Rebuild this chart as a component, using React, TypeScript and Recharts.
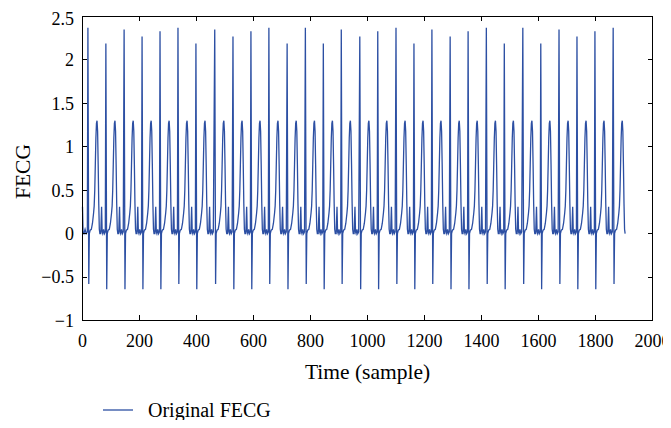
import { LineChart, Line, XAxis, YAxis, Legend } from 'recharts'

// R-peak position (sample) and height of each beat
const rSamples = [19, 82, 146, 209, 272, 335, 398, 464, 528, 591, 654, 718, 782, 845, 908, 973, 1036, 1100, 1163, 1226, 1290, 1353, 1417, 1480, 1545, 1608, 1672, 1735, 1798, 1862]
const rValues = [2.37, 2.19, 2.35, 2.27, 2.33, 2.37, 2.19, 2.35, 2.27, 2.33, 2.37, 2.19, 2.37, 2.19, 2.35, 2.27, 2.33, 2.37, 2.19, 2.35, 2.27, 2.33, 2.37, 2.19, 2.37, 2.19, 2.35, 2.27, 2.33, 2.37]
// S-wave minimum right after each R peak
const sValues = [-0.58, -0.64, -0.64, -0.64, -0.64, -0.58, -0.64, -0.58, -0.64, -0.64, -0.58, -0.64, -0.58, -0.64, -0.58, -0.64, -0.64, -0.58, -0.64, -0.58, -0.64, -0.64, -0.58, -0.64, -0.58, -0.64, -0.58, -0.64, -0.64, -0.58]
// rest of one beat after the S wave: offset from R (samples) and amplitude
const beatOffsets = [5, 8, 12, 16, 20, 22, 24, 26, 28, 30, 32, 34, 36, 38, 40, 42, 45, 46, 48, 50, 52, 55, 58, 61]
const beatValues = [0.0, 0.04, 0.05, 0.12, 0.24, 0.32, 0.5, 0.8, 1.1, 1.27, 1.3, 1.18, 0.8, 0.35, 0.05, 0.0, 0.0, 0.1, 0.31, 0.02, 0.0, 0.05, 0.0, 0.02]
// record start, before the first R peak
const leadSamples = [0, 2, 5, 9, 13, 17]
const leadValues = [0.31, 0.02, 0.0, 0.05, 0.0, 0.02]
const lastSample = 1904

const xTicks = [0, 200, 400, 600, 800, 1000, 1200, 1400, 1600, 1800, 2000]
const yTicks = [-1, -0.5, 0, 0.5, 1, 1.5, 2, 2.5]
const xMin = 0
const xMax = 2000
const yMin = -1
const yMax = 2.5

const data: { x: number; y: number }[] = leadSamples.map((x, i) => ({ x, y: leadValues[i] }))
rSamples.forEach((r, i) => {
  data.push({ x: r, y: rValues[i] })
  data.push({ x: r + 3, y: sValues[i] })
  beatOffsets.forEach((o, k) => data.push({ x: r + o, y: beatValues[k] }))
})
const series = data.filter((d) => d.x <= lastSample)

// layout (plot edges sit on pixel centres so the 1px frame stays crisp)
const W = 663
const H = 412
const margin = { top: 8.5, right: 18.5, left: 14, bottom: 39.5 }
const yAxisW = 60.5
const xAxisH = 60
const plotL = margin.left + yAxisW
const plotT = margin.top
const plotW = W - plotL - margin.right
const plotH = H - margin.top - margin.bottom - xAxisH
const tickLen = 5

const font = '"Liberation Serif", serif'
const blue = '#2c4fa3'
const tickStyle = { fontSize: 18, fill: '#000', fontFamily: font }
const fmt = (v: number) => String(v).replace('-', '\u2212')

const YLabel = ({ viewBox }: any) => {
  const cx = viewBox.x + 8
  const cy = viewBox.y + viewBox.height / 2 + 3
  return (
    <text x={cx} y={cy} transform={`rotate(-90, ${cx}, ${cy})`} textAnchor="middle" fontSize={21.5} fontFamily={font} fill="#000">
      FECG
    </text>
  )
}

const LegendBox = () => (
  <div style={{ display: 'flex', alignItems: 'center', fontFamily: font, fontSize: 20, lineHeight: '20px', color: '#000' }}>
    <svg width={30} height={20}>
      <line x1={0} y1={10} x2={30} y2={10} stroke={blue} strokeWidth={1.3} />
    </svg>
    <span style={{ marginLeft: 15 }}>Original FECG</span>
  </div>
)

// box around the plot with inward ticks on all four sides, drawn as filled 1px rects
const Frame = () => {
  const px = (t: number) => Math.floor(plotL + ((t - xMin) / (xMax - xMin)) * plotW)
  const py = (t: number) => Math.floor(plotT + ((yMax - t) / (yMax - yMin)) * plotH)
  const l = Math.floor(plotL)
  const t0 = Math.floor(plotT)
  const b = Math.floor(plotT + plotH)
  const r = Math.floor(plotL + plotW)
  return (
    <svg width={W} height={H} style={{ position: 'absolute', left: 0, top: 0, zIndex: 5, pointerEvents: 'none' }}>
      <rect x={l} y={t0} width={r - l + 1} height={1} fill="#000" />
      <rect x={l} y={b} width={r - l + 1} height={1} fill="#000" />
      <rect x={l} y={t0} width={1} height={b - t0 + 1} fill="#000" />
      <rect x={r} y={t0} width={1} height={b - t0 + 1} fill="#000" />
      {xTicks.map((t) => (
        <g key={'x' + t}>
          <rect x={px(t)} y={b - tickLen} width={1} height={tickLen} fill="#000" />
          <rect x={px(t)} y={t0} width={1} height={tickLen} fill="#000" />
        </g>
      ))}
      {yTicks.map((t) => (
        <g key={'y' + t}>
          <rect x={l} y={py(t)} width={tickLen} height={1} fill="#000" />
          <rect x={r - tickLen + 1} y={py(t)} width={tickLen} height={1} fill="#000" />
        </g>
      ))}
    </svg>
  )
}

export default function App() {
  return (
    <div style={{ position: 'relative', width: W, height: H }}>
      <LineChart width={W} height={H} data={series} margin={margin} style={{ overflow: 'visible' }}>
        <XAxis
          dataKey="x"
          type="number"
          domain={[xMin, xMax]}
          ticks={xTicks}
          tick={tickStyle}
          tickLine={false}
          tickSize={0}
          tickMargin={14}
          stroke="#000"
          height={xAxisH}
          label={{ value: 'Time (sample)', position: 'insideBottom', offset: 2, fontSize: 21.5, fontFamily: font, fill: '#000' }}
        />
        <YAxis
          type="number"
          domain={[yMin, yMax]}
          ticks={yTicks}
          tickFormatter={fmt}
          tick={tickStyle}
          tickLine={false}
          tickSize={0}
          tickMargin={8.5}
          stroke="#000"
          width={yAxisW}
          label={<YLabel />}
        />
        <Legend verticalAlign="middle" align="center" layout="horizontal" wrapperStyle={{ top: 392, left: 95, width: 'auto' }} content={<LegendBox />} />
        <Line dataKey="y" name="Original FECG" type="linear" stroke={blue} strokeWidth={1.3} dot={false} isAnimationActive={false} legendType="plainline" />
      </LineChart>
      <Frame />
    </div>
  )
}
